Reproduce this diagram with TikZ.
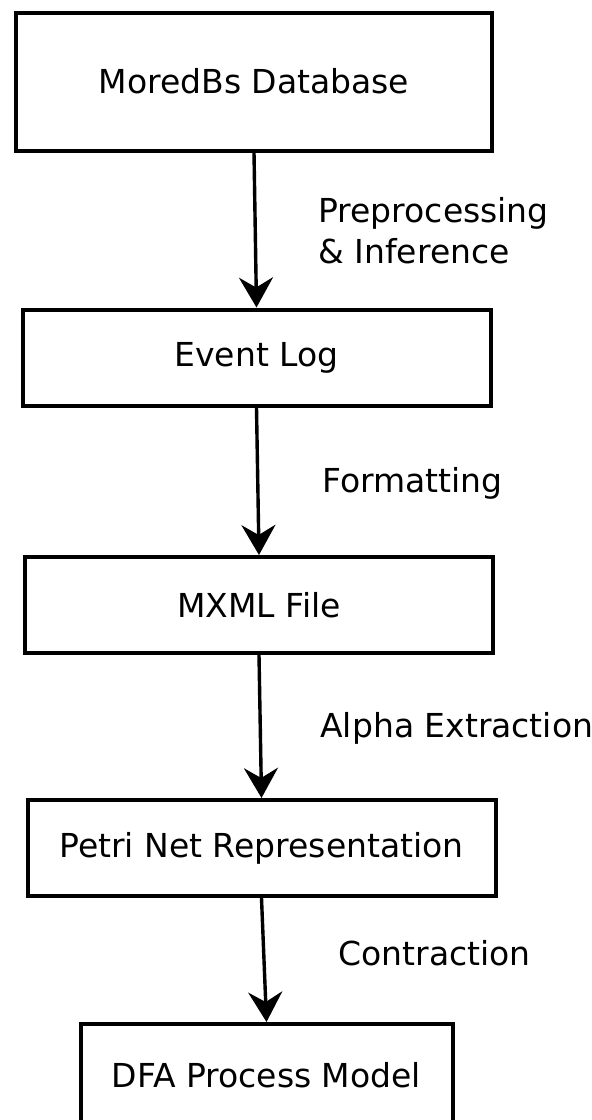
\documentclass[tikz,border=0pt]{standalone}
\usepackage{fontspec}
\setmainfont{DejaVu Sans}
\usepackage{tikz}
\usetikzlibrary{arrows.meta}
\usetikzlibrary{positioning, calc}

\tikzset{
  stagebox/.style={draw, line width=2pt, rectangle, inner sep=0pt, align=center,
    font=\fontsize{16.5}{20.5}\selectfont},
  stagelabel/.style={anchor=base west, inner sep=0pt, align=left,
    font=\fontsize{16.5}{20.5}\selectfont},
  flow/.style={->, line width=1.7pt}
}

\begin{document}
\begin{tikzpicture}[x=0.5pt, y=-0.5pt, >={Stealth[length=15pt, width=17pt, inset=5pt]}]

      \useasboundingbox (0, 0) rectangle (591, 1120);

      % stages
      \node[stagebox, minimum width=238pt, minimum height=69pt] (mdb) at (254, 81.5) {MoredBs Database};
      \node[stagebox, minimum width=234pt, minimum height=48pt] (elog) at (256.5, 357.5) {Event Log};
      \node[stagebox, minimum width=234pt, minimum height=48pt] (mxml) at (259, 605) {MXML File};
      \node[stagebox, minimum width=234pt, minimum height=48pt] (petri) at (261.5, 848) {Petri Net Representation};
      \node[stagebox, minimum width=186pt, minimum height=51pt] (dfa) at (266.5, 1075) {DFA Process Model};

      % steps
      \node[stagelabel] (prep) at (318, 263) {Preprocessing\\\& Inference};
      \node[stagelabel] (fmt) at (322, 492) {Formatting};
      \node[stagelabel] (alpha) at (320, 737) {Alpha Extraction};
      \node[stagelabel] (contr) at (338, 965) {Contraction};

      \draw[flow] (mdb.south) -- (elog.north);
      \draw[flow] (elog.south) -- (mxml.north);
      \draw[flow] (mxml.south) -- (petri.north);
      \draw[flow] (petri.south) -- (dfa.north);

    \end{tikzpicture}
\end{document}
